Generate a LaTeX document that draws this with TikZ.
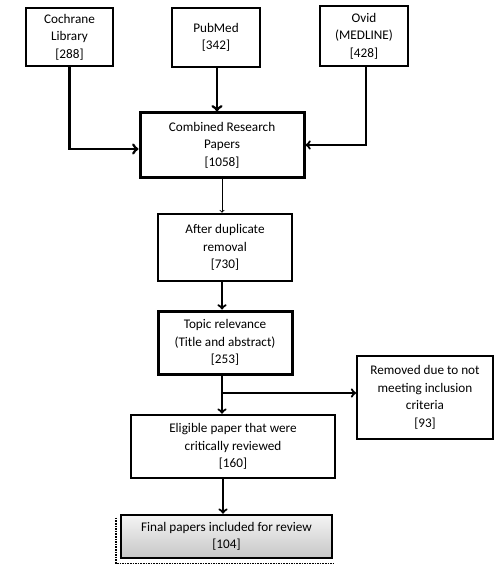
\documentclass[tikz,border=0pt]{standalone}
\usepackage{fontspec}
\setmainfont{Carlito}
\usepackage{tikz}
\usetikzlibrary{shapes.geometric, arrows, shapes, positioning, calc, backgrounds}

\begin{document}
\begin{tikzpicture}[x=1pt, y=-1pt,
    flowbox/.style={rectangle, draw=black, align=center, inner sep=2pt,
                font=\fontsize{13.2}{17.5}\selectfont},
    conn/.style={->, >=to, line width=2.2pt}]
    \useasboundingbox (0,0) rectangle (500,567);

    % sources
    \node[flowbox, line width=1.5pt, minimum width=87pt, minimum height=58pt] (cochrane) at (69.5,37) {Cochrane\\Library\\{}[288]};
    \node[flowbox, line width=1.5pt, minimum width=88pt, minimum height=59pt] (pubmed) at (216,37.5) {PubMed\\{}[342]};
    \node[flowbox, line width=1.8pt, minimum width=88pt, minimum height=60pt] (ovid) at (364,36) {Ovid\\(MEDLINE)\\{}[428]};

    \node[flowbox, line width=3pt, minimum width=164pt, minimum height=64pt] (combined) at (222,145) {Combined Research\\Papers\\{}[1058]};
    \node[flowbox, line width=2.6pt, minimum width=134pt, minimum height=67pt] (dup) at (225,247.5) {After duplicate\\removal\\{}[730]};
    \node[flowbox, line width=3pt, minimum width=134pt, minimum height=63pt] (topic) at (225,342.5) {Topic relevance\\(Title and abstract)\\{}[253]};
    \node[flowbox, line width=1.8pt, minimum width=136pt, minimum height=83pt] (removed) at (425,397.5) {Removed due to not\\meeting inclusion\\criteria\\{}[93]};
    \node[flowbox, line width=2.6pt, minimum width=204pt, minimum height=63pt] (eligible) at (233,446.5) {Eligible paper that were\\critically reviewed\\{}[160]};
    \node[flowbox, line width=2.6pt, minimum width=211pt, minimum height=43pt, top color=gray!8, bottom color=gray!45] (final) at (226.5,536.5) {Final papers included for review\\{}[104]};

    \draw[densely dotted, line width=1.6pt] ([xshift=-4pt,yshift=-4pt]final.north west) -- ([xshift=-4pt,yshift=-4pt]final.south west) -- ([yshift=-4pt]final.south east);

    % connectors
    \draw[conn, line width=2.8pt] (cochrane) |- ([yshift=-4pt]combined.west);
    \draw[conn, line width=2.8pt] (pubmed.south -| 217,0) -- (217,0 |- combined.north);
    \draw[conn] (ovid.south -| 366,0) |- (combined.east);
    \draw[->, >=to, line width=0.9pt] (combined.south) -- (combined.south |- dup.north);
    \draw[conn] (dup.south -| 222,0) -- (222,0 |- topic.north);
    \coordinate (split) at (222,393);
    \draw[conn] (topic.south -| split) -- (split |- eligible.north);
    \draw[conn] (split) -- (split -| removed.west);
    \draw[conn] (eligible.south -| 223,0) -- (223,0 |- final.north);
\end{tikzpicture}
\end{document}
